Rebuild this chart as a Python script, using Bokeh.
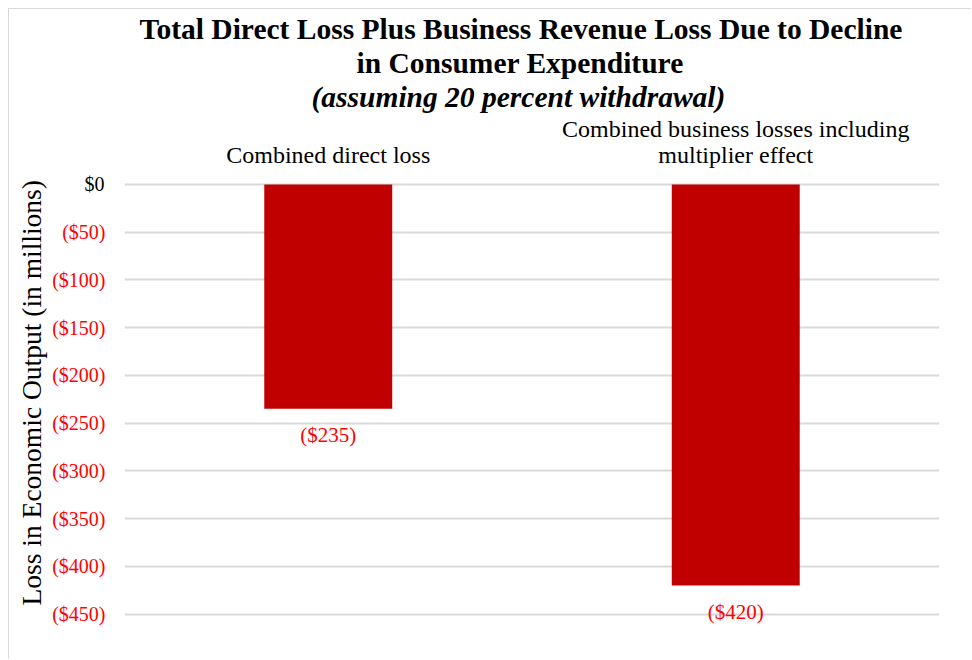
from bokeh.plotting import figure
from bokeh.models import (FactorRange, FixedTicker, CustomJSTickFormatter, LinearAxis,
                          ColumnDataSource, Title)
from bokeh.core.properties import value
from bokeh.embed import file_html
from bokeh.resources import INLINE

categories = ["Combined direct loss", "Combined business losses including\nmultiplier effect"]
losses = [-235, -420]
loss_labels = ["($235)", "($420)"]
tick_values = [0, -50, -100, -150, -200, -250, -300, -350, -400, -450]
neg_ticks = [-50, -100, -150, -200, -250, -300, -350, -400, -450]
title_lines = ["Total Direct Loss Plus Business Revenue Loss Due to Decline",
               "in Consumer Expenditure",
               "(assuming 20 percent withdrawal)"]
y_title = "Loss in Economic Output (in millions)"

FONT = "Liberation Serif"
W, H = 963, 651

p = figure(width=W, height=H, x_range=FactorRange(factors=categories), y_range=(-465, 2),
           x_axis_location="above", y_axis_location=None,
           output_backend="svg", toolbar_location=None,
           min_border_left=115, min_border_right=33, min_border_top=173, min_border_bottom=32)
p.title.visible = False
p.outline_line_color = None
p.background_fill_color = "white"
p.border_fill_color = "white"
p.styles = {"margin-left": "8px", "margin-top": "8px",
            "border-left": "1px solid #d9d9d9", "border-top": "1px solid #d9d9d9"}

src = ColumnDataSource(dict(x=categories, y=losses, lab=loss_labels))
p.vbar(x="x", top=0, bottom="y", width=0.314, source=src, fill_color="#C00000", line_color=None)
p.text(x="x", y="y", text="lab", source=src, text_align="center", text_baseline="top",
       y_offset=14, text_font=value(FONT), text_font_size="21px", text_color="#FF0000")

def style_y(ax):
    ax.major_label_text_font = FONT
    ax.major_label_text_font_size = "20px"
    ax.major_tick_line_color = None
    ax.minor_tick_line_color = None
    ax.axis_line_color = None

# inner axis: only $0 (black)
ya0 = LinearAxis(ticker=FixedTicker(ticks=[0]),
                 formatter=CustomJSTickFormatter(code="return '$' + tick;"))
style_y(ya0)
ya0.major_label_text_color = "black"
ya0.major_label_standoff = 14
p.add_layout(ya0, "left")

# outer axis: negative values (red)
ya = LinearAxis(ticker=FixedTicker(ticks=neg_ticks),
                formatter=CustomJSTickFormatter(code="return '($' + Math.abs(tick) + ')';"))
style_y(ya)
ya.major_label_text_color = "#FF0000"
ya.major_label_standoff = -30
p.add_layout(ya, "left")

# y axis title as a rotated left title
p.add_layout(Title(text=y_title, align="left", offset=23, standoff=6, text_font=FONT,
                   text_font_size="27.5px", text_font_style="normal", text_color="black"), "left")

# x axis (categories above)
xa = p.xaxis[0]
xa.major_label_text_font = FONT
xa.major_label_text_font_size = "24px"
xa.major_label_text_color = "black"
xa.major_label_text_line_height = 1.0
xa.major_tick_line_color = None
xa.minor_tick_line_color = None
xa.axis_line_color = None
xa.major_label_standoff = 9

p.xgrid.grid_line_color = None
p.ygrid.ticker = FixedTicker(ticks=tick_values)
p.ygrid.grid_line_color = "#d9d9d9"
p.ygrid.grid_line_width = 2

# title lines (closest to plot added first)
title_offsets = [15, 232, 187]
title_styles = ["bold", "bold", "bold italic"]
for txt, off, sty in reversed(list(zip(title_lines, title_offsets, title_styles))):
    p.add_layout(Title(text=txt, align="left", offset=off, standoff=0,
                       text_font=FONT, text_font_size="29.5px", text_font_style=sty,
                       text_color="black"), "above")

open("out.html", "w").write(file_html(p, INLINE))
